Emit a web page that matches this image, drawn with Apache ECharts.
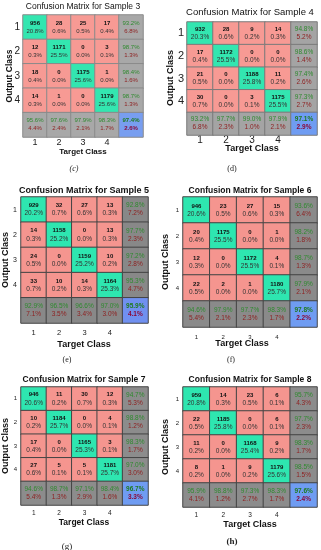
<!DOCTYPE html>
<html><head><meta charset="utf-8">
<script src="https://cdn.jsdelivr.net/npm/echarts@6/dist/echarts.min.js"></script>
<style>html,body{margin:0;padding:0;background:#fff}#c{width:321px;height:550px}</style>
</head><body><div id="c"></div>
<script>
// ---------- DATA ----------
const classLabels = ['1', '2', '3', '4'];
const sampleNames = ['Sample 3', 'Sample 4', 'Sample 5', 'Sample 6', 'Sample 7', 'Sample 8'];
const subCaptions = ['(c)', '(d)', '(e)', '(f)', '(g)', '(h)'];

const s3Counts = [[956, 28, 25, 17], [12, 1171, 0, 3], [18, 0, 1175, 1], [14, 1, 0, 1179]];
const s3Pcts = [[20.8, 0.6, 0.5, 0.4], [0.3, 25.5, 0.0, 0.1], [0.4, 0.0, 25.6, 0.0], [0.3, 0.0, 0.0, 25.6]];
const s3RowAcc = [93.2, 98.7, 98.4, 98.7];
const s3ColAcc = [95.6, 97.6, 97.9, 98.3];
const s3Overall = 97.4;

const s4Counts = [[932, 28, 9, 14], [17, 1172, 0, 0], [21, 0, 1188, 11], [30, 0, 3, 1175]];
const s4Pcts = [[20.3, 0.6, 0.2, 0.3], [0.4, 25.5, 0.0, 0.0], [0.5, 0.0, 25.8, 0.2], [0.7, 0.0, 0.1, 25.5]];
const s4RowAcc = [94.8, 98.6, 97.4, 97.3];
const s4ColAcc = [93.2, 97.7, 99.0, 97.9];
const s4Overall = 97.1;

const s5Counts = [[929, 32, 27, 13], [14, 1158, 0, 13], [24, 0, 1159, 10], [33, 10, 14, 1164]];
const s5Pcts = [[20.2, 0.7, 0.6, 0.3], [0.3, 25.2, 0.0, 0.3], [0.5, 0.0, 25.2, 0.2], [0.7, 0.2, 0.3, 25.3]];
const s5RowAcc = [92.8, 97.7, 97.2, 95.3];
const s5ColAcc = [92.9, 96.5, 96.6, 97.0];
const s5Overall = 95.9;

const s6Counts = [[946, 23, 27, 15], [20, 1175, 0, 1], [12, 0, 1172, 4], [22, 2, 1, 1180]];
const s6Pcts = [[20.6, 0.5, 0.6, 0.3], [0.4, 25.5, 0.0, 0.0], [0.3, 0.0, 25.5, 0.1], [0.5, 0.0, 0.0, 25.7]];
const s6RowAcc = [93.6, 98.2, 98.7, 97.9];
const s6ColAcc = [94.6, 97.9, 97.7, 98.3];
const s6Overall = 97.8;

const s7Counts = [[946, 11, 30, 12], [10, 1184, 0, 4], [17, 0, 1165, 3], [27, 5, 5, 1181]];
const s7Pcts = [[20.6, 0.2, 0.7, 0.3], [0.2, 25.7, 0.0, 0.1], [0.4, 0.0, 25.3, 0.1], [0.6, 0.1, 0.1, 25.7]];
const s7RowAcc = [94.7, 98.8, 98.3, 97.0];
const s7ColAcc = [94.6, 98.7, 97.1, 98.4];
const s7Overall = 96.7;

const s8Counts = [[959, 14, 23, 6], [22, 1185, 0, 6], [11, 0, 1168, 9], [8, 1, 9, 1179]];
const s8Pcts = [[20.8, 0.3, 0.5, 0.1], [0.5, 25.8, 0.0, 0.1], [0.2, 0.0, 25.4, 0.2], [0.2, 0.0, 0.2, 25.6]];
const s8RowAcc = [95.7, 97.7, 98.3, 98.5];
const s8ColAcc = [95.9, 98.8, 97.3, 98.3];
const s8Overall = 97.6;

// ---------- LAYOUT / STYLE ----------
const SANS = 'Liberation Sans, Arial, sans-serif';
const SERIF = 'Liberation Serif, Times New Roman, serif';
const panels = [
  {d: [s3Counts, s3Pcts, s3RowAcc, s3ColAcc, s3Overall], left: 23, top: 15, w: 120, h: 122,
   tx: 83, ty: 7, tw: 'normal', tfs: 8.5, yfs: 10, ym: 3, xfs: 9, xm: 1,
   ttx: 83, tty: 152, ttfs: 8, ox: 10, oy: 76, ofs: 8.5, sx: 74, sy: 169, sfs: 8, sst: 'italic', sw: 'normal',
   gray: '#a8a8a8', border: '#8a8a8a', green: '#33e6b0', red: '#f79a94', blue: '#789ef0', nfs: 6, pfs: 6},
  {d: [s4Counts, s4Pcts, s4RowAcc, s4ColAcc, s4Overall], left: 187, top: 22, w: 130, h: 113,
   tx: 250, ty: 12, tw: 'normal', tfs: 9.5, yfs: 11, ym: 3, xfs: 10, xm: 0,
   ttx: 252, tty: 149, ttfs: 9, ox: 171, oy: 78, ofs: 9, sx: 232, sy: 169, sfs: 8, sst: 'normal', sw: 'normal',
   gray: '#a4a4a4', border: '#7a7a7a', green: '#33e6b0', red: '#f79a94', blue: '#6f9cf2', nfs: 6, pfs: 6.5},
  {d: [s5Counts, s5Pcts, s5RowAcc, s5ColAcc, s5Overall], left: 21, top: 197, w: 127, h: 126,
   tx: 84, ty: 191, tw: 'bold', tfs: 9, yfs: 7, ym: 4, xfs: 7.5, xm: 6,
   ttx: 84, tty: 345, ttfs: 9, ox: 6, oy: 260, ofs: 9, sx: 67, sy: 360, sfs: 8, sst: 'normal', sw: 'normal',
   gray: '#888888', border: '#444444', green: '#2ee6b0', red: '#f5958f', blue: '#7090f0', nfs: 6, pfs: 6.5},
  {d: [s6Counts, s6Pcts, s6RowAcc, s6ColAcc, s6Overall], left: 183, top: 197, w: 134, h: 130,
   tx: 250, ty: 191, tw: 'bold', tfs: 8.5, yfs: 6, ym: 4, xfs: 6, xm: 7,
   ttx: 242, tty: 344, ttfs: 9, ox: 166, oy: 262, ofs: 9, sx: 231, sy: 360, sfs: 8, sst: 'normal', sw: 'normal',
   gray: '#8a8a8a', border: '#444444', green: '#2ee6b0', red: '#f5958f', blue: '#6f9cf2', nfs: 6, pfs: 6.5},
  {d: [s7Counts, s7Pcts, s7RowAcc, s7ColAcc, s7Overall], left: 21, top: 387, w: 127, h: 118,
   tx: 84, ty: 380, tw: 'bold', tfs: 8.5, yfs: 6, ym: 4, xfs: 6.5, xm: 5,
   ttx: 84, tty: 523, ttfs: 8.5, ox: 6, oy: 446, ofs: 9, sx: 67, sy: 547, sfs: 9, sst: 'normal', sw: 'normal',
   gray: '#8c8c8c', border: '#444444', green: '#2ee6b0', red: '#f5958f', blue: '#6f9cf2', nfs: 6, pfs: 6.5},
  {d: [s8Counts, s8Pcts, s8RowAcc, s8ColAcc, s8Overall], left: 183, top: 387, w: 134, h: 120,
   tx: 250, ty: 380, tw: 'bold', tfs: 8.5, yfs: 6, ym: 4, xfs: 6.5, xm: 5,
   ttx: 250, tty: 525, ttfs: 9, ox: 166, oy: 447, ofs: 9, sx: 232, sy: 542, sfs: 9, sst: 'normal', sw: 'bold',
   gray: '#8c8c8c', border: '#444444', green: '#2ee6b0', red: '#f5958f', blue: '#6f9cf2', nfs: 6, pfs: 6.5}
];

const grids = [], xAxes = [], yAxes = [], series = [], graphics = [];
const pct = v => v.toFixed(1) + '%';

panels.forEach((P, i) => {
  const [counts, pcts, rowAcc, colAcc, overall] = P.d;
  grids.push({left: P.left, top: P.top, width: P.w, height: P.h});
  xAxes.push({type: 'category', gridIndex: i, data: classLabels.concat(['']), position: 'bottom',
    axisLine: {show: false}, axisTick: {show: false}, splitLine: {show: false},
    axisLabel: {fontSize: P.xfs, color: '#222', margin: P.xm, fontFamily: SANS}});
  yAxes.push({type: 'category', gridIndex: i, data: classLabels.concat(['']), inverse: true,
    axisLine: {show: false}, axisTick: {show: false}, splitLine: {show: false},
    axisLabel: {fontSize: P.yfs, color: '#222', margin: P.ym, fontFamily: SANS}});
  const data = [];
  for (let r = 0; r < 4; r++) {
    for (let c = 0; c < 4; c++) {
      data.push({value: [c, r, counts[r][c]], itemStyle: {color: r === c ? P.green : P.red},
        label: {formatter: '{n|' + counts[r][c] + '}\n{p|' + pct(pcts[r][c]) + '}'}});
    }
    data.push({value: [4, r, rowAcc[r]], itemStyle: {color: P.gray},
      label: {formatter: '{g|' + pct(rowAcc[r]) + '}\n{e|' + pct(100 - rowAcc[r]) + '}'}});
  }
  for (let c = 0; c < 4; c++) {
    data.push({value: [c, 4, colAcc[c]], itemStyle: {color: P.gray},
      label: {formatter: '{g|' + pct(colAcc[c]) + '}\n{e|' + pct(100 - colAcc[c]) + '}'}});
  }
  data.push({value: [4, 4, overall], itemStyle: {color: P.blue},
    label: {formatter: '{gb|' + pct(overall) + '}\n{eb|' + pct(100 - overall) + '}'}});
  series.push({type: 'heatmap', xAxisIndex: i, yAxisIndex: i, data: data, silent: true,
    itemStyle: {borderColor: P.border, borderWidth: 1},
    emphasis: {disabled: true},
    label: {show: true, fontFamily: SANS, rich: {
      n: {fontSize: P.nfs, fontWeight: 'bold', color: '#111', lineHeight: 8, fontFamily: SANS},
      p: {fontSize: P.pfs, color: '#333', lineHeight: 8, fontFamily: SANS},
      g: {fontSize: P.pfs, color: '#2f8a2f', lineHeight: 8, fontFamily: SANS},
      e: {fontSize: P.pfs, color: '#8e2222', lineHeight: 8, fontFamily: SANS},
      gb: {fontSize: P.pfs, color: '#1f7a1f', fontWeight: 'bold', lineHeight: 8, fontFamily: SANS},
      eb: {fontSize: P.pfs, color: '#8a0a3a', fontWeight: 'bold', lineHeight: 8, fontFamily: SANS}
    }}});
  graphics.push({type: 'text', x: P.tx, y: P.ty, silent: true,
    style: {text: 'Confusion Matrix for ' + sampleNames[i], fill: '#111',
      font: P.tw + ' ' + P.tfs + 'px ' + SANS, textAlign: 'center', textVerticalAlign: 'middle', align: 'center', verticalAlign: 'middle'}});
  graphics.push({type: 'text', x: P.ttx, y: P.tty, silent: true,
    style: {text: 'Target Class', fill: '#111',
      font: 'bold ' + P.ttfs + 'px ' + SANS, textAlign: 'center', textVerticalAlign: 'middle', align: 'center', verticalAlign: 'middle'}});
  graphics.push({type: 'text', x: P.ox, y: P.oy, rotation: Math.PI / 2, silent: true,
    style: {text: 'Output Class', fill: '#111',
      font: 'bold ' + P.ofs + 'px ' + SANS, textAlign: 'center', textVerticalAlign: 'middle', align: 'center', verticalAlign: 'middle'}});
  graphics.push({type: 'text', x: P.sx, y: P.sy, silent: true,
    style: {text: subCaptions[i], fill: '#222',
      font: P.sst + ' ' + P.sw + ' ' + P.sfs + 'px ' + SERIF, textAlign: 'center', textVerticalAlign: 'middle', align: 'center', verticalAlign: 'middle'}});
});

const chart = echarts.init(document.getElementById('c'), null, {renderer: 'canvas'});
chart.setOption({
  animation: false,
  backgroundColor: '#ffffff',
  grid: grids, xAxis: xAxes, yAxis: yAxes, series: series, graphic: graphics
});
</script></body></html>
